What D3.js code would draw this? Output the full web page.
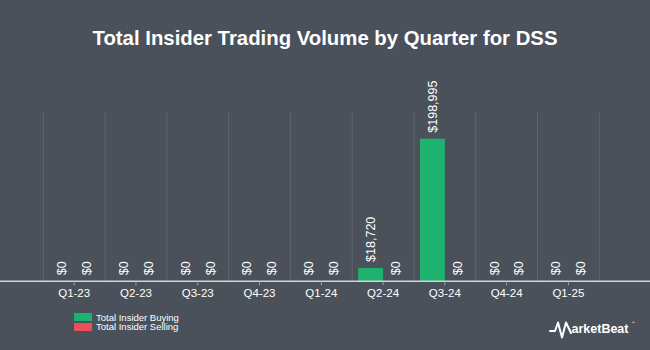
<!DOCTYPE html>
<html>
<head>
<meta charset="utf-8">
<script src="https://cdn.jsdelivr.net/npm/d3@7/dist/d3.min.js"></script>
<style>
  html, body { margin: 0; padding: 0; background: #4a515b; }
  svg { display: block; }
  text { font-family: "Liberation Sans", Arial, sans-serif; }
</style>
</head>
<body>
<svg id="chart" width="650" height="350"></svg>
<script>
const categories = ["Q1-23","Q2-23","Q3-23","Q4-23","Q1-24","Q2-24","Q3-24","Q4-24","Q1-25"];
const buying = [0, 0, 0, 0, 0, 18720, 198995, 0, 0];
const selling = [0, 0, 0, 0, 0, 0, 0, 0, 0];
const seriesNames = ["Total Insider Buying", "Total Insider Selling"];
const seriesColors = ["#1db36f", "#e8505b"];
const yMax = 237000;
const title = "Total Insider Trading Volume by Quarter for DSS";

(function () {
const svg = d3.select("#chart");
const W = 650, H = 350;
svg.append("rect").attr("width", W).attr("height", H).attr("fill", "#4a515b");

const pLeft = 43.3, pRight = 599.3, pTop = 111.5, pBottom = 281.3;

const x0 = d3.scaleBand().domain(categories).range([pLeft, pRight]).padding(0);
const x1 = d3.scaleBand().domain([0, 1]).range([0, x0.bandwidth()]).paddingInner(0).paddingOuter(0.24);
const y = d3.scaleLinear().domain([0, yMax]).range([pBottom, pTop]);

// title
svg.append("text")
  .attr("x", W / 2).attr("y", 45)
  .attr("text-anchor", "middle")
  .attr("font-size", 20).attr("font-weight", "bold")
  .attr("fill", "#ffffff")
  .attr("textLength", 465).attr("lengthAdjust", "spacingAndGlyphs")
  .text(title);

// vertical gridlines at band boundaries
const bounds = categories.map(c => x0(c)).concat([x0(categories[categories.length - 1]) + x0.bandwidth()]);
svg.append("g").selectAll("line").data(bounds).join("line")
  .attr("x1", d => d).attr("x2", d => d)
  .attr("y1", pTop).attr("y2", pBottom)
  .attr("stroke", "#5d646e").attr("stroke-width", 1);

// bars
const data = categories.map((c, i) => ({ cat: c, vals: [buying[i], selling[i]] }));
const groups = svg.append("g").selectAll("g").data(data).join("g")
  .attr("transform", d => `translate(${x0(d.cat)},0)`);

groups.selectAll("rect").data(d => d.vals.map((v, k) => ({ v, k }))).join("rect")
  .attr("x", d => x1(d.k)).attr("width", x1.bandwidth())
  .attr("y", d => y(d.v)).attr("height", d => pBottom - y(d.v))
  .attr("fill", d => seriesColors[d.k]);

const fmt = d3.format(",");
groups.selectAll("text").data(d => d.vals.map((v, k) => ({ v, k }))).join("text")
  .attr("transform", d => `translate(${x1(d.k) + x1.bandwidth() / 2},${y(d.v) - 6}) rotate(-90)`)
  .attr("dy", "0.35em")
  .attr("text-anchor", "start")
  .attr("font-size", 12.5)
  .attr("fill", "#ffffff")
  .text(d => "$" + fmt(d.v));

// x axis
const xAxis = d3.axisBottom(x0).tickSize(4).tickSizeOuter(0).tickPadding(4);
const ax = svg.append("g").attr("transform", `translate(0,${pBottom})`).call(xAxis);
ax.select(".domain").attr("stroke", "#d4d4d4").attr("stroke-width", 1.5)
  .attr("d", `M0,0H${W}`);
ax.selectAll(".tick line").attr("stroke", "#9aa0a8");
ax.selectAll(".tick text").attr("fill", "#ffffff").attr("font-size", 11.5)
  .attr("font-family", "'Liberation Sans', Arial, sans-serif");

// legend
const lg = svg.append("g");
seriesNames.forEach((name, i) => {
  lg.append("rect").attr("x", 74).attr("y", 313 + i * 10).attr("width", 18).attr("height", 8)
    .attr("fill", seriesColors[i]);
  lg.append("text").attr("x", 96).attr("y", 320.5 + i * 9.5)
    .attr("font-size", 9.5).attr("fill", "#ffffff").text(name);
});

// MarketBeat logo
const logo = svg.append("g");
logo.append("path")
  .attr("d", "M550,331 L555,331 L558,322.5 L562,337.5 L566,322.5 L571,333")
  .attr("fill", "none").attr("stroke", "#ffffff").attr("stroke-width", 2)
  .attr("stroke-linejoin", "round").attr("stroke-linecap", "round");
logo.append("text").attr("x", 571.5).attr("y", 333)
  .attr("font-size", 13.5).attr("font-weight", "bold").attr("fill", "#ffffff")
  .attr("textLength", 57).attr("lengthAdjust", "spacingAndGlyphs")
  .text("arketBeat");
logo.append("text").attr("x", 631.5).attr("y", 324).attr("font-size", 3.5).attr("fill", "#ffffff").text("™");
})();
</script>
</body>
</html>
